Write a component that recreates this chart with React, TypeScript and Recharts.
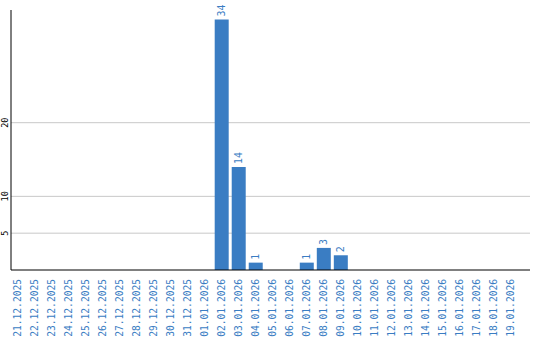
import { Bar, BarChart, CartesianGrid, LabelList, XAxis, YAxis } from "recharts";

const dates = [
  "21.12.2025", "22.12.2025", "23.12.2025", "24.12.2025", "25.12.2025",
  "26.12.2025", "27.12.2025", "28.12.2025", "29.12.2025", "30.12.2025",
  "31.12.2025", "01.01.2026", "02.01.2026", "03.01.2026", "04.01.2026",
  "05.01.2026", "06.01.2026", "07.01.2026", "08.01.2026", "09.01.2026",
  "10.01.2026", "11.01.2026", "12.01.2026", "13.01.2026", "14.01.2026",
  "15.01.2026", "16.01.2026", "17.01.2026", "18.01.2026", "19.01.2026",
];

const counts = [
  0, 0, 0, 0, 0, 0, 0, 0, 0, 0,
  0, 0, 34, 14, 1, 0, 0, 1, 3, 2,
  0, 0, 0, 0, 0, 0, 0, 0, 0, 0,
];

const yTicks = [5, 10, 20];

const BLUE = "#3a7dc3";
const MONO = "'DejaVu Sans Mono', 'Liberation Mono', monospace";

const chartData = dates.map((date, i) => ({ date, count: counts[i] }));

function DateTick({ x, y, payload }: any) {
  const ty = y + 1;
  return (
    <text
      x={x}
      y={ty}
      transform={`rotate(-90 ${x} ${ty})`}
      textAnchor="end"
      dominantBaseline="central"
      fontFamily={MONO}
      fontSize={9.6}
      fill={BLUE}
    >
      {payload.value}
    </text>
  );
}

function CountTick({ y, payload }: any) {
  return (
    <text
      x={5}
      y={y}
      transform={`rotate(-90 5 ${y})`}
      textAnchor="middle"
      dominantBaseline="central"
      fontFamily={MONO}
      fontSize={8.5}
      fill="#000"
    >
      {payload.value}
    </text>
  );
}

function ValueLabel({ x, y, width, value }: any) {
  if (!value) return null;
  const cx = x + width / 2;
  const ty = y - 3;
  return (
    <text
      x={cx}
      y={ty}
      transform={`rotate(-90 ${cx} ${ty})`}
      textAnchor="start"
      dominantBaseline="central"
      fontFamily={MONO}
      fontSize={10}
      fill={BLUE}
    >
      {value}
    </text>
  );
}

export default function App() {
  return (
    <div style={{ position: "absolute", left: 0, top: 0, background: "#fff" }}>
      <BarChart
        width={540}
        height={340}
        data={chartData}
        barSize={14}
        margin={{ top: 10, right: 10, bottom: 0, left: 0 }}
      >
        <CartesianGrid vertical={false} stroke="#c8c8c8" horizontalValues={yTicks} />
        <XAxis
          dataKey="date"
          interval={0}
          padding={{ left: -2.5, right: 11 }}
          axisLine={{ stroke: "#000" }}
          tickLine={false}
          tick={<DateTick />}
          height={70}
        />
        <YAxis
          width={11}
          domain={[0, 35.3]}
          ticks={yTicks}
          axisLine={{ stroke: "#000" }}
          tickLine={false}
          tick={<CountTick />}
        />
        <Bar dataKey="count" fill={BLUE} isAnimationActive={false}>
          <LabelList dataKey="count" content={<ValueLabel />} />
        </Bar>
      </BarChart>
    </div>
  );
}
